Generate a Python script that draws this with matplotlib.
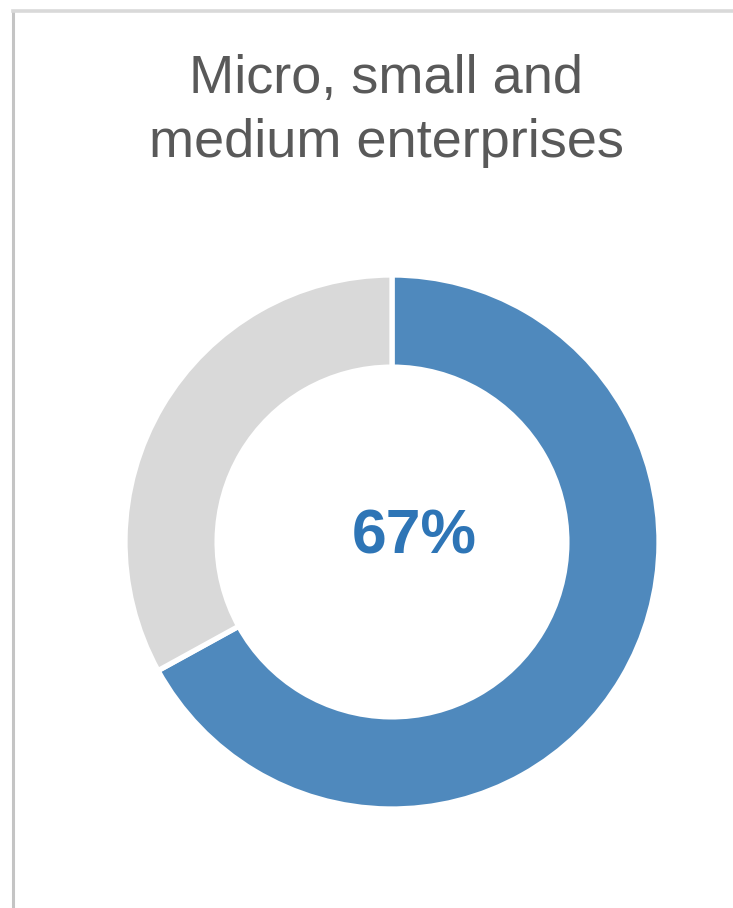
import matplotlib
matplotlib.use("Agg")
import matplotlib.pyplot as plt
from matplotlib.lines import Line2D

labels = ["Micro, small and medium enterprises", "Other"]
values = [67, 33]
colors = ["#4F89BD", "#D9D9D9"]
title = "Micro, small and\nmedium enterprises"
center_label = "67%"

W, H = 733, 908
fig = plt.figure(figsize=(W / 100, H / 100), dpi=100)
fig.patch.set_facecolor("white")

# panel border (left and top)
fig.add_artist(Line2D([13.5 / W, 13.5 / W], [0, 1 - 11 / H], transform=fig.transFigure,
                      color="#C4C4C4", lw=2.2))
fig.add_artist(Line2D([13 / W, 1], [1 - 11 / H, 1 - 11 / H], transform=fig.transFigure,
                      color="#D9D9D9", lw=2.6))

cx, cy, r = 392, 542, 267
ax = fig.add_axes([(cx - r) / W, (H - cy - r) / H, 2 * r / W, 2 * r / H])
ax.pie(values, colors=colors, startangle=90, counterclock=False,
       wedgeprops=dict(width=0.345, edgecolor="white", linewidth=3.8))
ax.set_xlim(-1, 1)
ax.set_ylim(-1, 1)
ax.set_aspect("equal")
ax.axis("off")

ax.text(0.085, 0.02, center_label, ha="center", va="center", fontsize=45,
        fontweight="bold", color="#2E75B6", family="Liberation Sans")

fig.text(386 / W, 1 - 111 / H, title, ha="center", va="center", fontsize=39,
         color="#595959", family="Liberation Sans", linespacing=1.36)

fig.savefig("out.png", dpi=100)
